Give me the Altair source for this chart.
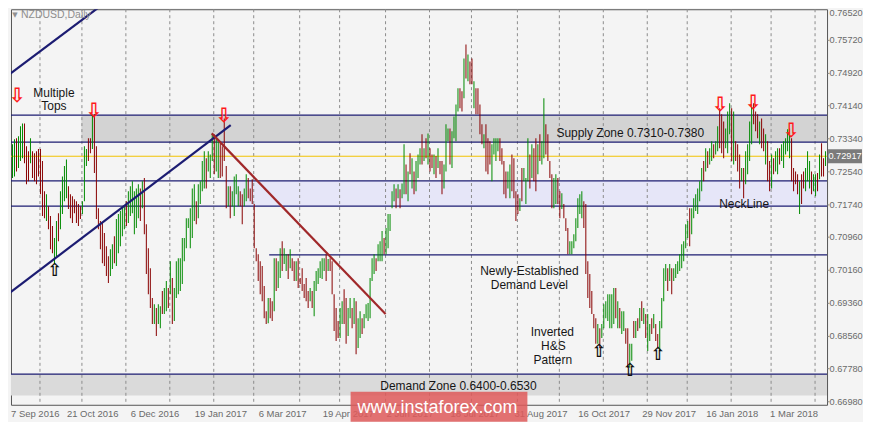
import altair as alt
import pandas as pd

# ---------------- data (prices in pips, 0.0001) ----------------
highs_pips = [
7480,7432,7364,7364,7321,7333,7335,7340,7364,7371,
7371,7316,7304,7335,7304,7299,7304,7309,7309,7280,
7207,7200,7171,7147,7123,7094,7135,7154,7207,7243,
7268,7284,7219,7200,7195,7188,7183,7176,7171,7183,
7316,7309,7335,7335,7393,7393,7316,7166,7135,7130,
7106,7074,7050,7067,7079,7098,7140,7152,7159,7171,
7171,7183,7207,7219,7231,7207,7214,7224,7214,7231,
7239,7127,7069,7021,6949,6934,6925,6934,6929,6966,
6973,6990,6973,7038,6997,6973,7038,7045,7045,7094,
7094,7142,7142,7166,7214,7224,7183,7224,7231,7280,
7304,7287,7304,7296,7347,7345,7335,7328,7328,7316,
7383,7268,7219,7219,7207,7243,7248,7219,7207,7200,
7214,7248,7239,7214,7236,7176,7069,7055,7038,7026,
6978,6917,6949,6949,6941,7045,7045,7038,7069,7086,
7069,7055,7055,7067,7045,7038,7038,7045,6997,7021,
6983,6997,6966,6973,6966,6990,7014,7021,7038,7045,
7045,7055,7043,7045,7038,6958,6925,6893,6925,6941,
6970,6949,6925,6949,6925,6949,6941,6900,6917,6900,
6910,6934,6937,6997,7045,7055,7045,7079,7086,7111,
7094,7118,7152,7152,7207,7224,7214,7224,7212,7226,
7321,7272,7255,7299,7287,7255,7280,7296,7311,7345,
7311,7335,7347,7311,7296,7296,7292,7311,7280,7280,
7272,7369,7359,7359,7352,7388,7417,7456,7456,7449,
7528,7562,7538,7521,7528,7473,7456,7456,7417,7369,
7345,7369,7335,7328,7321,7335,7335,7335,7335,7311,
7280,7255,7255,7272,7296,7287,7207,7200,7190,7263,
7263,7239,7335,7296,7321,7311,7335,7321,7345,7328,
7432,7369,7345,7280,7248,7239,7248,7239,7207,7202,
7176,7142,7118,7086,7086,7103,7142,7190,7200,7207,
7183,7176,7038,7007,6966,6910,6900,6886,6876,6886,
6934,6941,6958,6958,6958,6973,6973,6941,6925,6917,
6917,6876,6876,6838,6838,6893,6893,6900,6925,6941,
6925,6910,6910,6886,6900,6910,6886,6862,6893,6949,
7021,7031,7021,7031,7021,7021,7031,7038,7055,7079,
7086,7127,7135,7166,7166,7190,7200,7214,7231,7263,
7280,7311,7304,7311,7328,7321,7328,7364,7408,7393,
7376,7359,7400,7420,7408,7400,7328,7321,7296,7263,
7263,7304,7321,7376,7417,7420,7400,7393,7376,7383,
7359,7345,7328,7280,7296,7287,7304,7311,7311,7321,
7328,7335,7357,7359,7335,7263,7255,7248,7231,7248,
7255,7263,7304,7280,7255,7248,7248,7251,7296,7323,
7287,7304,
]
lows_pips = [
7376,7321,7309,7248,7239,7243,7255,7263,7280,7287,
7275,7224,7231,7275,7239,7231,7224,7243,7200,7147,
7142,7135,7115,7067,7057,7031,7050,7086,7115,7152,
7183,7190,7164,7142,7130,7154,7130,7123,7140,7152,
7183,7268,7280,7299,7309,7251,7140,7115,7067,7033,
7026,7002,6985,7002,7019,7033,7026,7057,7074,7098,
7115,7123,7130,7147,7154,7103,7118,7142,7135,7166,
7103,7007,6958,6925,6886,6886,6857,6886,6876,6910,
6910,6917,6925,6958,6886,6893,6949,6958,6966,6983,
7038,7069,7118,7069,7094,7135,7127,7142,7176,7207,
7214,7214,7255,7239,7280,7248,7255,7239,7239,7243,
7280,7166,7171,7142,7171,7147,7200,7171,7171,7127,
7171,7183,7190,7183,7176,7069,7038,6990,6958,6941,
6900,6886,6888,6900,6893,6917,6966,6973,6997,7014,
7031,7014,6995,7021,7014,6990,6990,6973,6983,6966,
6949,6941,6925,6941,6925,6905,6966,6983,6997,6995,
7014,6990,7014,7014,6958,6869,6845,6852,6852,6886,
6886,6838,6857,6900,6876,6886,6813,6828,6852,6862,
6876,6900,6893,6900,6990,7007,7014,7038,7038,7038,
7055,7055,7069,7111,7166,7183,7166,7190,7166,7190,
7200,7200,7183,7248,7214,7200,7207,7239,7272,7272,
7280,7287,7272,7255,7263,7248,7239,7263,7248,7200,
7214,7255,7328,7272,7263,7335,7328,7400,7408,7400,
7432,7480,7473,7466,7466,7408,7393,7393,7345,7321,
7311,7255,7248,7272,7231,7296,7280,7304,7280,7272,
7200,7190,7214,7190,7207,7190,7135,7152,7159,7183,
7231,7176,7231,7214,7239,7231,7207,7248,7280,7272,
7287,7296,7280,7239,7166,7166,7176,7176,7142,7164,
7142,7111,7055,7055,7055,7069,7086,7118,7152,7142,
7118,7007,6949,6925,6910,6876,6838,6838,6828,6852,
6876,6900,6893,6876,6876,6886,6900,6876,6876,6862,
6869,6838,6780,6780,6797,6852,6852,6869,6876,6893,
6886,6852,6821,6845,6862,6876,6845,6828,6821,6876,
6941,6990,6966,6990,6958,6990,6997,7007,7014,7021,
7038,7069,7094,7074,7103,7142,7159,7152,7183,7207,
7231,7255,7263,7272,7280,7287,7296,7304,7311,7299,
7287,7311,7299,7345,7280,7272,7280,7255,7214,7231,
7190,7224,7248,7280,7321,7369,7352,7335,7321,7311,
7304,7272,7231,7207,7214,7248,7255,7248,7272,7280,
7263,7296,7304,7287,7231,7207,7224,7200,7152,7176,
7214,7207,7231,7214,7200,7207,7195,7207,7236,7243,
7243,7268,
]
# U = up bar (green), D = down bar (red)
directions = (
    "DDDUUUDUUU" "DDDUDDDDDD" "DUDDDUUDUU" "UUDDDDDDDU" "UUDDUDDDDD"
    "DDDUUDUUUU" "UDUUUUUUDU" "DDDDDUDUUD" "UUDUDUUUUU" "UUUUUUDUUU"
    "UDUUUDUUDD" "DDUDUUUUDD" "UUDDDDDDDD" "DDUDDUDUUD" "UUDUDDUDDD"
    "DDDUDUUUUU" "UDUDDDDDUU" "DDUUDUDUUD" "UUUUUUDUUU" "DUUUUUDUDU"
    "UDUDUDUUUD" "UDUDDUDUDD" "UUUDUUUUDD" "UDUDDUDDDD" "UDDDUUUUDD"
    "DDUUDDDDUD" "UUUDUDDUDU" "UDDDDUUDDU" "DDDUUUUUUU" "DDDDDDDUDU"
    "UUUUUUDUDU" "UDDUUDUDUD" "UDUUDUDDUU" "UUDUDUUUUU" "UUUDUUUUUU"
    "DUDUUDUUDD" "DUUUDUDDDU" "DUUUUDDDUD" "DUDDUDUUDU" "UUUUDDDDUD"
    "DUUUDUUDUD" "DU"
)

date_labels = ["7 Sep 2016", "21 Oct 2016", "6 Dec 2016", "19 Jan 2017", "6 Mar 2017",
               "19 Apr 2017", "2 Jun 2017", "18 Jul 2017", "31 Aug 2017", "16 Oct 2017",
               "29 Nov 2017", "16 Jan 2018", "1 Mar 2018"]
date_label_bars = [0, 32, 64, 96, 128, 160, 192, 224, 256, 288, 320, 352, 384]
month_start_bars = [18, 39, 61, 83, 105, 125, 148, 168, 191, 213, 234, 257, 278,
                    300, 322, 342, 364, 384, 406]
price_ticks = [0.76520, 0.75720, 0.74920, 0.74140, 0.73340, 0.72540, 0.71740,
               0.70960, 0.70160, 0.69360, 0.68560, 0.67780, 0.66980]
current_price = 0.72917

zone_names = ["supply", "neck", "demand"]
zone_low = [0.7326, 0.7171, 0.6713]
zone_high = [0.7391, 0.7232, 0.6765]
zone_start = [38.75, 110.75, -0.25]
zone_fill = ["#d3d3d3", "#e6e6f8", "#dadada"]

level_prices = [0.7391, 0.7326, 0.7232, 0.7171, 0.7053, 0.6765]
level_start = [-0.25, -0.25, -0.25, -0.25, 132.75, -0.25]

trend_id = ["up1", "up1", "up2", "up2", "down", "down"]
trend_bar = [0, 51.5, 0, 113.5, 104, 191]
trend_price = [0.7480, 0.76665, 0.6951, 0.7367, 0.7347, 0.6910]

top_arrow_bar = [6.5, 45, 110, 358.5, 375, 394]
top_arrow_price = [0.7437, 0.7400, 0.7388, 0.7415, 0.7420, 0.7352]
bottom_arrow_bar = [25.5, 298, 313.5, 327.5]
bottom_arrow_price = [0.7014, 0.6818, 0.6773, 0.6811]

ann_text = ["Multiple", "Tops", "Supply Zone 0.7310-0.7380", "NeckLine",
            "Newly-Established", "Demand Level", "Inverted", "H&S", "Pattern",
            "Demand Zone 0.6400-0.6530"]
ann_bar = [25, 25, 313.5, 370.5, 263, 263, 274.5, 275, 274.75, 227.5]
ann_price = [0.7444, 0.7412, 0.7347, 0.7176, 0.7014, 0.6980, 0.6867, 0.6833, 0.6799, 0.6736]

# ---------------- visible window (page margin hides the first 8 px) ----------------
X_START, X_END = 3.5, 412.0            # 2 px per bar over 817 px
Y_TOP, Y_BOT = 0.764718, 0.66907       # 4140 px per unit over 396 px
PW, PH = 817, 396

assert len(highs_pips) == len(lows_pips) == len(directions)
bars = pd.DataFrame({
    "bar": list(range(len(highs_pips))),
    "high": [h / 10000 for h in highs_pips],
    "low": [l / 10000 for l in lows_pips],
    "dir": list(directions),
})
bars["bar_end"] = bars["bar"] + 0.5      # one pixel wide
zones = pd.DataFrame({"name": zone_names, "lo": zone_low, "hi": zone_high,
                      "x": [max(s, X_START) for s in zone_start], "x2": [X_END] * 3,
                      "fill": zone_fill})
levels = pd.DataFrame({"p": level_prices, "x": [max(s, X_START) for s in level_start],
                       "x2": [X_END] * len(level_prices)})
grid = pd.DataFrame({"bar": month_start_bars})
trend = pd.DataFrame({"id": trend_id, "bar": trend_bar, "p": trend_price,
                      "seq": list(range(len(trend_id)))})
tops = pd.DataFrame({"bar": top_arrow_bar, "p": top_arrow_price})
bottoms = pd.DataFrame({"bar": bottom_arrow_bar, "p": bottom_arrow_price})
anns = pd.DataFrame({"bar": ann_bar, "p": ann_price, "t": ann_text})
cur = pd.DataFrame({"p": [current_price], "t": [f"{current_price:.5f}"]})
xlab = pd.DataFrame({"bar": [max(b, X_START + 0.5) for b in date_label_bars], "t": date_labels})
ylab = pd.DataFrame({"p": [v for v in price_ticks if Y_BOT <= v <= Y_TOP]})
ylab_top = pd.DataFrame({"t": [f"{v:.5f}" for v in price_ticks if v > Y_TOP]})

FONT = "Liberation Sans"
NAVY = "#1c1c72"
LABEL = "#6a6a6a"
xs = alt.Scale(domain=[X_START, X_END], nice=False, zero=False)
ys = alt.Scale(domain=[Y_BOT, Y_TOP], nice=False, zero=False)


def X(field):
    return alt.X(field, scale=xs, axis=None)


def Y(field):
    return alt.Y(field, scale=ys, axis=None)


zone_layer = alt.Chart(zones).mark_rect(clip=True).encode(
    x=X("x:Q"), x2="x2:Q", y=Y("lo:Q"), y2="hi:Q",
    color=alt.Color("fill:N", scale=None, legend=None))

grid_layer = alt.Chart(grid).mark_rule(color="#8c8c8c", strokeDash=[3, 3], strokeWidth=1).encode(
    x=X("bar:Q"), y=alt.value(0), y2=alt.value(PH))

cur_line = alt.Chart(cur).mark_rule(color="#f2c200", strokeWidth=1).encode(
    y=Y("p:Q"), x=alt.value(0), x2=alt.value(PW))

level_layer = alt.Chart(levels).mark_rule(color=NAVY, strokeWidth=1.3, clip=True).encode(
    x=X("x:Q"), x2="x2:Q", y=Y("p:Q"))

bar_layer = alt.Chart(bars).transform_filter(
    f"datum.bar >= {X_START}"
).mark_rect(clip=True).encode(
    x=X("bar:Q"), x2="bar_end:Q", y=Y("low:Q"), y2="high:Q",
    color=alt.Color("dir:N", scale=alt.Scale(domain=["U", "D"], range=["#008a00", "#880000"]),
                    legend=None))

trend_layer = alt.Chart(trend).mark_line(strokeWidth=2.2, clip=True).encode(
    x=X("bar:Q"), y=Y("p:Q"), detail="id:N", order="seq:Q",
    color=alt.Color("id:N", scale=alt.Scale(domain=["up1", "up2", "down"],
                                            range=[NAVY, NAVY, "#a0282a"]), legend=None))

top_layer = alt.Chart(tops).mark_text(text="⇩", color="#ff1a1a", fontSize=20, fontWeight="bold",
                                      font="DejaVu Sans", baseline="middle").encode(
    x=X("bar:Q"), y=Y("p:Q"))
bottom_layer = alt.Chart(bottoms).mark_text(text="⇧", color="#111111", fontSize=18, fontWeight="bold",
                                            font="DejaVu Sans", baseline="middle").encode(
    x=X("bar:Q"), y=Y("p:Q"))

ann_layer = alt.Chart(anns).mark_text(font=FONT, fontSize=12, color="#161616",
                                      align="center", baseline="middle").encode(
    x=X("bar:Q"), y=Y("p:Q"), text="t:N")

# axis-like labels drawn through the same scales
xlab_layer = alt.Chart(xlab).mark_text(font=FONT, fontSize=9.5, color=LABEL, align="left",
                                       baseline="middle", dx=-1).encode(
    x=X("bar:Q"), y=alt.value(PH + 9), text="t:N")
ytick_layer = alt.Chart(ylab).mark_rule(color="#8a8a8a", strokeWidth=1).encode(
    y=Y("p:Q"), x=alt.value(PW + 0.5), x2=alt.value(PW + 2.5))
ylab_layer = alt.Chart(ylab).mark_text(font=FONT, fontSize=9.2, color=LABEL, align="left",
                                       baseline="middle").encode(
    y=Y("p:Q"), x=alt.value(PW + 2.5), text=alt.Text("p:Q", format=".5f"))
ylab_top_layer = alt.Chart(ylab_top).mark_text(font=FONT, fontSize=9.2, color=LABEL, align="left",
                                               baseline="top").encode(
    y=alt.value(0), x=alt.value(PW + 2.5), text="t:N")

title_tri = alt.Chart(cur).mark_text(text="▼", color="#909090", fontSize=7, font="DejaVu Sans",
                                     baseline="middle").encode(x=alt.value(4), y=alt.value(6))
title_txt = alt.Chart(cur).mark_text(text="NZDUSD,Daily", color="#8e8e8e", fontSize=10.5, font=FONT,
                                     align="left", baseline="middle").encode(
    x=alt.value(10), y=alt.value(6))

box_df = pd.DataFrame({"lo": [current_price - 0.0017], "hi": [current_price + 0.0017]})
price_rect = alt.Chart(box_df).mark_rect(color="#7b7b7b").encode(
    x=alt.value(818), x2=alt.value(852), y=Y("lo:Q"), y2="hi:Q")
price_txt = alt.Chart(cur).mark_text(color="white", fontSize=9.2, font=FONT, align="center",
                                     baseline="middle").encode(
    x=alt.value(835), y=Y("p:Q"), text="t:N")

wm_df = pd.DataFrame({"t": ["www.instaforex.com"]})
wm_rect = alt.Chart(wm_df).mark_rect(color="#de5b5b", opacity=0.86).encode(
    x=alt.value(340), x2=alt.value(517), y=alt.value(383), y2=alt.value(413))
wm_txt = alt.Chart(wm_df).mark_text(color="white", fontSize=18, font=FONT, align="center",
                                    baseline="middle").encode(
    x=alt.value(427), y=alt.value(399), text="t:N")

chart = alt.layer(
    zone_layer, grid_layer, cur_line, level_layer, bar_layer, trend_layer,
    top_layer, bottom_layer, ann_layer, xlab_layer, ytick_layer, ylab_layer, ylab_top_layer,
    title_tri, title_txt, price_rect, price_txt, wm_rect, wm_txt,
).resolve_scale(color="independent").properties(
    width=PW, height=PH, padding=0,
).configure(background="#f4f4f4").configure_view(
    fill="#f4f4f4", stroke="#555555", strokeWidth=1)

chart.save("out.html", embed_options={"renderer": "svg", "actions": False})
